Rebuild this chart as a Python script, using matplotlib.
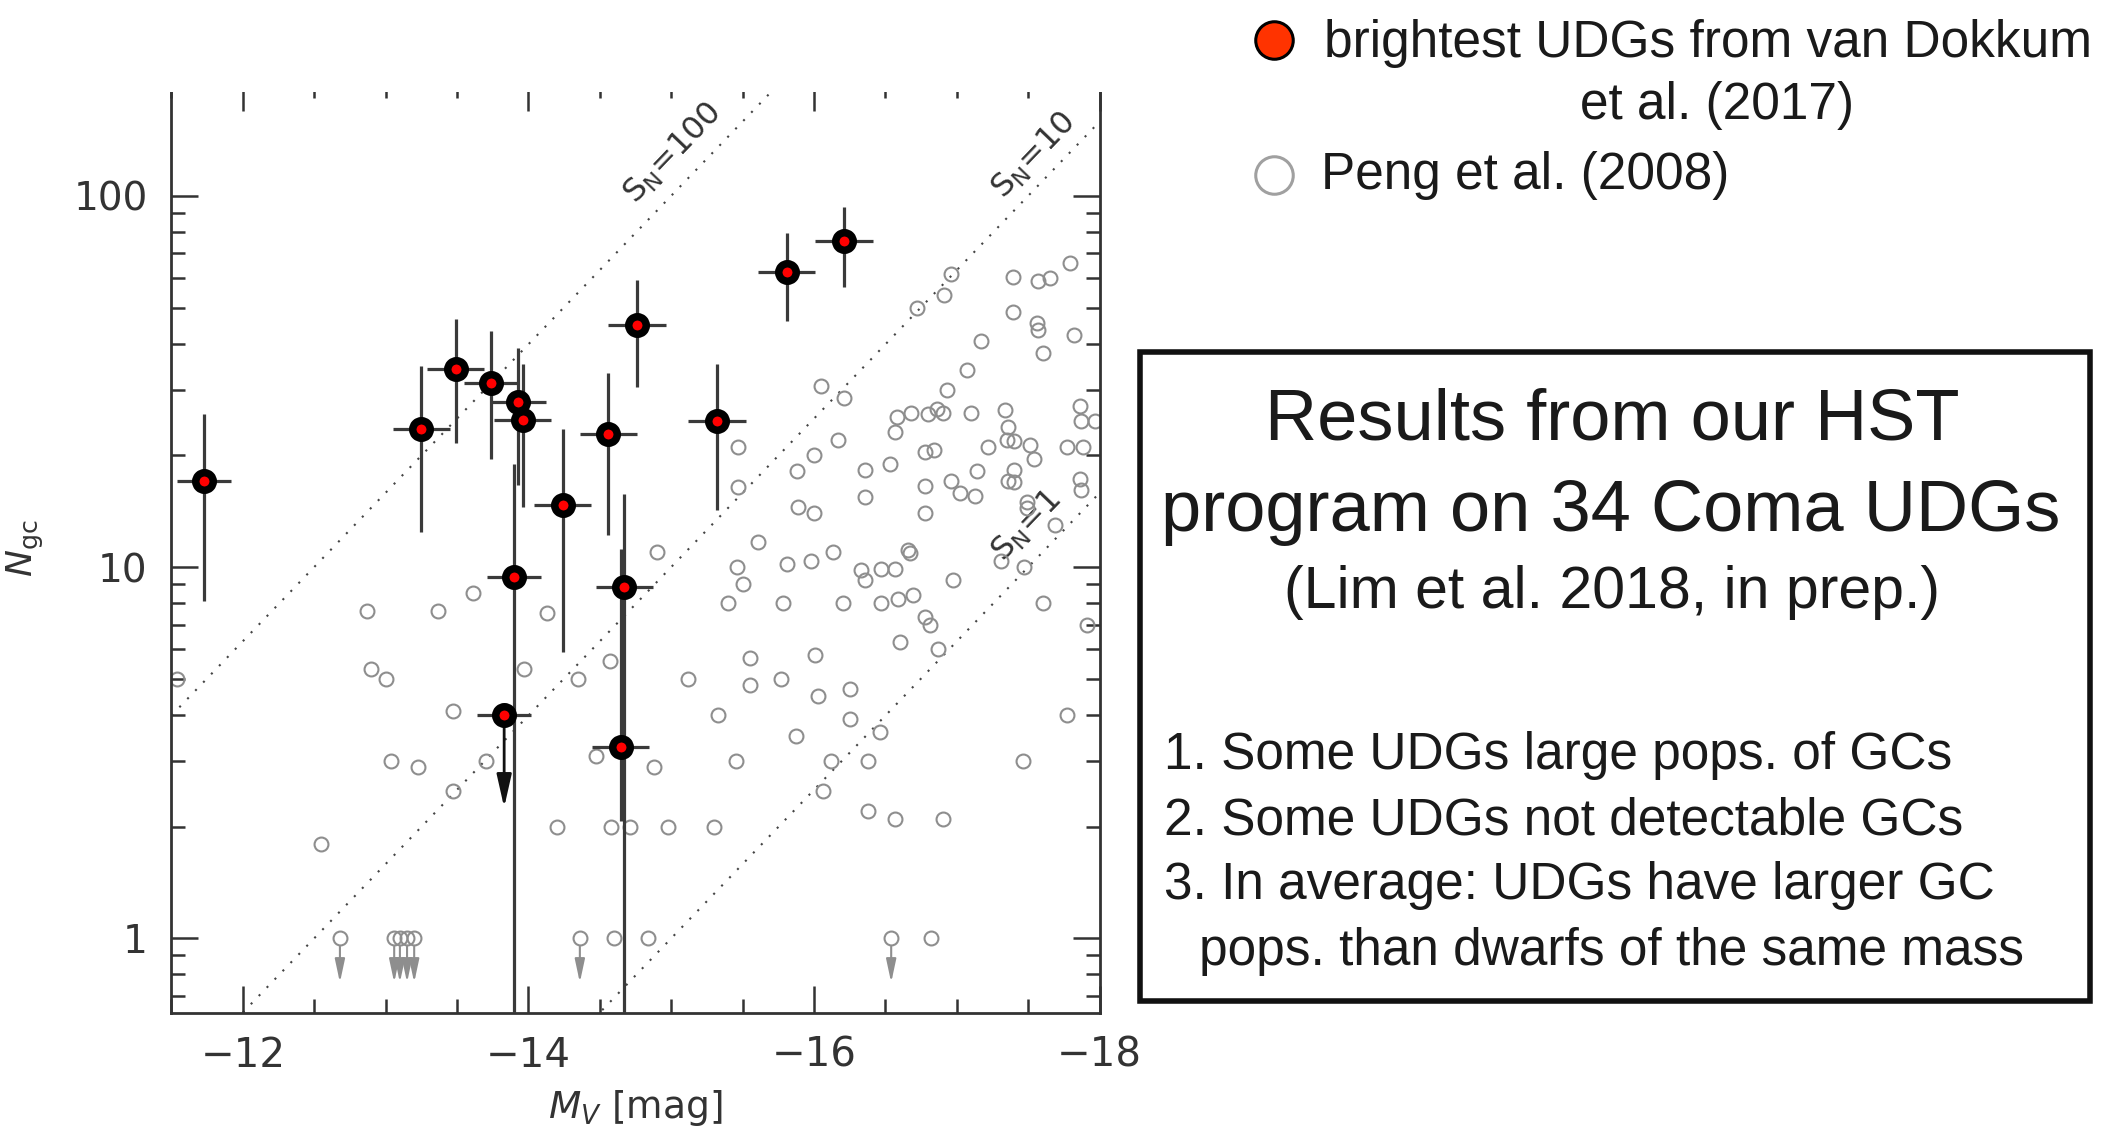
import numpy as np
import matplotlib.pyplot as plt
from matplotlib.patches import Rectangle
from matplotlib.lines import Line2D
from matplotlib.ticker import MultipleLocator, NullFormatter

# brightest UDGs (van Dokkum et al. 2017): M_V, N_GC and the N_GC error range
udg_mv = [-11.73, -13.25, -13.49, -13.74, -13.93, -13.96, -13.90, -14.76,
          -15.81, -16.21, -14.56, -15.32, -14.24, -14.67, -14.645]
udg_ngc = [17.0, 23.6, 34.2, 31.3, 27.9, 24.9, 9.4, 44.9,
           62.5, 75.5, 22.8, 24.7, 14.7, 8.85, 3.27]
udg_lo = [8.1, 12.4, 21.6, 19.5, 16.6, 14.5, 0.5, 30.6,
          45.9, 56.9, 12.2, 14.2, 5.9, 0.5, 2.07]
udg_hi = [25.8, 34.8, 46.6, 43.1, 39.0, 35.3, 18.9, 59.2,
          79.3, 93.0, 33.3, 35.2, 23.6, 15.7, 11.2]
udg_mv_err = [0.19, 0.2, 0.2, 0.19, 0.19, 0.2, 0.19, 0.2,
              0.2, 0.2, 0.2, 0.2, 0.2, 0.2, 0.2]

# UDG with only an upper limit on N_GC
udg_ul_mv = [-13.83]
udg_ul_ngc = [3.99]
udg_ul_to = [2.25]

# Virgo dwarfs (Peng et al. 2008)
peng_mv = [
    -11.54, -12.55, -12.87, -13.37, -13.61, -14.13, -12.90, -13.00, -13.47, -13.97,
    -13.04, -13.23, -13.70, -13.47, -14.20, -14.57, -14.35, -14.47, -14.58, -14.71,
    -14.98, -15.30, -14.88, -15.55, -16.01, -15.12, -15.55, -15.77, -16.03, -16.25,
    -15.33, -16.25, -15.87, -15.45, -16.12, -16.38, -16.06, -16.38, -16.46, -16.57,
    -16.90, -17.46, -17.77, -17.91, -17.60, -16.60, -16.87, -16.78, -16.81, -16.47,
    -16.20, -15.78, -15.40, -16.05, -16.21, -16.17, -15.47, -16.00, -15.88, -16.36,
    -15.47, -16.36, -15.89, -16.00, -15.61, -14.90, -16.13, -15.81, -15.98, -15.46,
    -15.50, -16.33, -16.36, -16.96, -16.91, -16.72, -17.39, -17.57, -17.65, -17.79,
    -17.39, -17.56, -17.57, -17.82, -17.60, -17.17, -17.07, -16.93, -16.58, -16.68,
    -16.80, -16.86, -16.90, -17.10, -17.34, -17.86, -17.87, -17.97, -16.57, -17.36,
    -17.35, -17.40, -17.51, -17.54, -17.22, -16.78, -16.84, -17.77, -17.88, -16.53,
    -17.14, -17.40, -17.36, -17.40, -16.78, -16.96, -17.86, -16.78, -17.02, -17.13,
    -17.87, -17.49, -17.49, -17.69, -16.66, -16.67, -16.47, -16.57, -16.97, -17.31,
    -17.47, -16.59, -16.69, -14.60, -14.84, -16.82]
peng_ngc = [
    5.0, 1.8, 7.6, 7.6, 8.5, 7.5, 5.3, 5.0, 4.1, 5.3,
    3.0, 2.9, 3.0, 2.5, 2.0, 5.6, 5.0, 3.1, 2.0, 2.0,
    2.0, 2.0, 2.9, 5.7, 5.8, 5.0, 4.8, 5.0, 4.5, 4.7,
    4.0, 3.9, 3.5, 3.0, 3.0, 3.0, 2.5, 2.2, 3.6, 2.1,
    2.1, 3.0, 4.0, 7.0, 8.0, 6.3, 6.0, 7.35, 7.0, 8.0,
    8.0, 8.0, 8.0, 30.7, 28.6, 22.0, 21.1, 20.0, 18.1, 18.2,
    16.4, 15.4, 14.5, 14.0, 11.7, 11.0, 11.0, 10.2, 10.4, 10.0,
    9.0, 9.8, 9.2, 61.5, 54.2, 49.9, 60.6, 58.9, 60.0, 65.8,
    48.6, 45.3, 43.6, 42.1, 37.6, 40.6, 34.0, 29.9, 25.3, 26.0,
    25.9, 26.7, 26.0, 26.0, 26.5, 27.1, 24.8, 24.8, 23.1, 23.9,
    22.0, 21.9, 21.3, 19.6, 21.0, 20.4, 20.7, 21.0, 21.0, 19.0,
    18.1, 18.2, 17.0, 16.9, 16.5, 17.0, 17.3, 14.0, 15.8, 15.5,
    16.1, 15.0, 14.4, 13.0, 11.1, 10.9, 9.9, 9.9, 9.2, 10.4,
    10.0, 8.2, 8.4, 1.0, 1.0, 1.0]

# Peng dwarfs with N_GC upper limits at 1
peng_ul_mv = [-12.68, -13.06, -13.10, -13.15, -13.20, -14.36, -16.54]
peng_ul_ngc = [1.0] * len(peng_ul_mv)
peng_ul_to = 0.76

# specific frequency lines and their label positions
sn_values = [100, 10, 1]
sn_labels = ['100', '10', '1']
sn_label_mv = [-15.01, -17.54, -17.49]
sn_label_ngc = [130, 128.5, 12.9]

box_title = ['Results from our HST', 'program on 34 Coma UDGs']
box_ref = '(Lim et al. 2018, in prep.)'
box_points = ['1. Some UDGs large pops. of GCs',
              '2. Some UDGs not detectable GCs',
              '3. In average: UDGs have larger GC',
              'pops. than dwarfs of the same mass']

plt.rcParams['font.family'] = ['DejaVu Sans']
W, H = 2107, 1133
fig = plt.figure(figsize=(W / 100, H / 100), dpi=100)
ax = fig.add_axes([171.4 / W, (H - 1013.3) / H, 928.3 / W, 929.3 / H])
ax.set_yscale('log')
ax.set_xlim(-11.5, -18)
ax.set_ylim(0.628, 200)

axis_col = '#333333'
gray = '#8e8e8e'

# S_N = N_GC * 10^(0.4 (M_V + 15))
mv_grid = np.linspace(-11.5, -18, 200)
for sn in sn_values:
    ax.plot(mv_grid, sn * 10 ** (-0.4 * (mv_grid + 15)), color='#444444',
            lw=1.5, ls=(0, (1, 4.5)), zorder=1)

p1 = ax.transData.transform((-14, 1.0))
p2 = ax.transData.transform((-15, 10 ** 0.4))
angle = np.degrees(np.arctan2(p2[1] - p1[1], p2[0] - p1[0]))
for lab, m, n in zip(sn_labels, sn_label_mv, sn_label_ngc):
    ax.text(m, n, r'S$_{\rm N}$=' + lab, rotation=angle, rotation_mode='anchor',
            ha='center', va='center', fontsize=23, color='#333333', zorder=2)

# Peng et al. dwarfs
ax.plot(peng_mv, peng_ngc, 'o', ms=10, mfc='none', mec=gray, mew=1.5, zorder=2)
ax.plot(peng_ul_mv, peng_ul_ngc, 'o', ms=10, mfc='none', mec=gray, mew=1.5, zorder=2)
for m in peng_ul_mv:
    ax.annotate('', xy=(m, peng_ul_to), xytext=(m, 0.95),
                arrowprops=dict(arrowstyle='-|>,head_length=1.4,head_width=0.3',
                                color=gray, lw=1.5, shrinkA=0, shrinkB=0))

# UDGs
yerr = [np.array(udg_ngc) - np.array(udg_lo), np.array(udg_hi) - np.array(udg_ngc)]
ax.errorbar(udg_mv, udg_ngc, xerr=udg_mv_err, yerr=yerr, fmt='none',
            ecolor='#3a3a3a', elinewidth=2.3, capsize=0, zorder=3)
ax.errorbar(udg_ul_mv, udg_ul_ngc, xerr=0.19, fmt='none',
            ecolor='#3a3a3a', elinewidth=2.3, capsize=0, zorder=3)
for m, n, to in zip(udg_ul_mv, udg_ul_ngc, udg_ul_to):
    ax.annotate('', xy=(m, to), xytext=(m, n),
                arrowprops=dict(arrowstyle='-|>,head_length=2.0,head_width=0.45',
                                color='#111111', lw=2.0, shrinkA=0, shrinkB=0),
                zorder=3)
ax.plot(udg_mv + udg_ul_mv, udg_ngc + udg_ul_ngc, 'o', ms=12.6, mfc='red',
        mec='black', mew=5.4, zorder=4)

# axes styling
ax.xaxis.set_major_locator(MultipleLocator(2))
ax.xaxis.set_minor_locator(MultipleLocator(0.5))
ax.set_xticks([-12, -14, -16, -18])
ax.set_yticks([1, 10, 100], ['1', '10', '100'])
ax.yaxis.set_minor_formatter(NullFormatter())
ax.tick_params(which='both', direction='in', top=True, right=True,
               color=axis_col, labelcolor=axis_col, width=1.8)
ax.tick_params(which='major', length=19.5, pad=17)
ax.tick_params(which='minor', length=10)
ax.tick_params(axis='x', labelsize=29, pad=16)
ax.tick_params(axis='y', labelsize=28)
for sp in ax.spines.values():
    sp.set_color(axis_col)
    sp.set_linewidth(2)
ax.set_xlabel(r'$M_V$ [mag]', fontsize=27, color=axis_col)
ax.xaxis.set_label_coords(0.5, -0.08)
ax.xaxis.label.set_va('top')
ax.set_ylabel(r'$N_{\rm gc}$', fontsize=26, color=axis_col)
ax.yaxis.set_label_coords(-0.135, 0.5)

# the plot panel is cut off just below its top edge
fig.add_artist(Rectangle((0, (H - 92) / H), 1130 / W, 92 / H, transform=fig.transFigure,
                         facecolor='white', edgecolor='none', zorder=10))

# legend
txt = dict(family=['Liberation Sans', 'DejaVu Sans'], color='#1a1a1a')
fig.add_artist(Line2D([1274 / W], [1 - 40 / H], marker='o', ms=27, mfc='#ff3300',
                      mec='black', mew=2.2, transform=fig.transFigure))
fig.add_artist(Line2D([1274 / W], [1 - 175 / H], marker='o', ms=27, mfc='white',
                      mec='#a0a0a0', mew=2.2, transform=fig.transFigure))
fig.text(1324 / W, 1 - 43 / H, 'brightest UDGs from van Dokkum', fontsize=37,
         ha='left', va='center', **txt)
fig.text(1717 / W, 1 - 105 / H, 'et al. (2017)', fontsize=37,
         ha='center', va='center', **txt)
fig.text(1321 / W, 1 - 175 / H, 'Peng et al. (2008)', fontsize=37,
         ha='left', va='center', **txt)

# results box
fig.add_artist(Rectangle((1139.5 / W, 1 - 1001 / H), 950.5 / W, 649 / H,
                         transform=fig.transFigure, facecolor='white',
                         edgecolor='#111111', lw=4, zorder=5))
fig.text(1612 / W, 1 - 421 / H, box_title[0], fontsize=52, ha='center',
         va='center', zorder=6, **txt)
fig.text(1611 / W, 1 - 512 / H, box_title[1], fontsize=52, ha='center',
         va='center', zorder=6, **txt)
fig.text(1612 / W, 1 - 593 / H, box_ref, fontsize=42.5, ha='center',
         va='center', zorder=6, **txt)
for i, (s, yy) in enumerate(zip(box_points, [755, 821, 886, 951])):
    x0 = 1199 if i == 3 else 1164
    fig.text(x0 / W, 1 - yy / H, s, fontsize=37, ha='left', va='center',
             zorder=6, **txt)

fig.savefig('out.png', dpi=100)
